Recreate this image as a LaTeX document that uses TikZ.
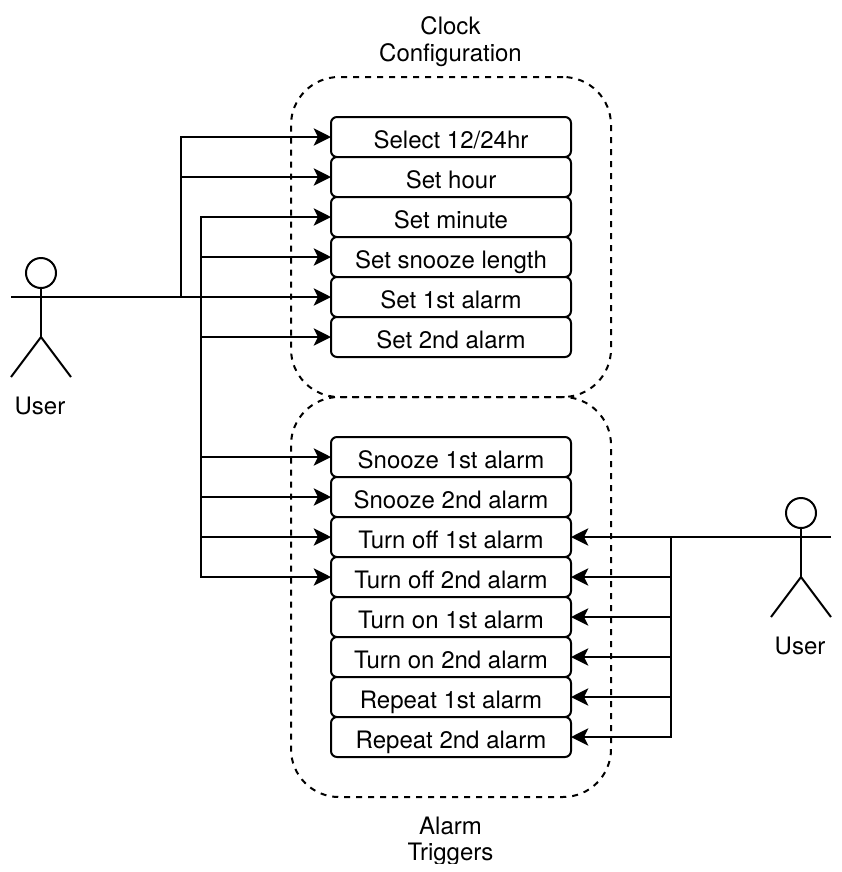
\documentclass[tikz,border=0pt]{standalone}
\usepackage{fontspec}
\setmainfont{TeX Gyre Heros}
\usetikzlibrary{arrows.meta, positioning}

\begin{document}
\begin{tikzpicture}[
    x=0.75pt, y=-0.75pt,
    line width=1.5pt,
    node distance=0pt,
    box/.style={rectangle, draw, rounded corners=4.5pt, minimum width=180pt, minimum height=30pt, inner sep=0pt, outer sep=0pt, fill=white, text centered, text height=18.8pt, text depth=2.2pt, font=\fontsize{18}{20}\selectfont},
    region/.style={rectangle, draw, dash pattern=on 4.5pt off 4.5pt, rounded corners=36pt, minimum width=240pt, inner sep=0pt, outer sep=0pt},
    label/.style={inner sep=0pt, align=center, font=\fontsize{18}{20}\selectfont},
    head/.style={circle, draw, minimum size=22.5pt, inner sep=0pt, outer sep=0pt},
    arrow/.style={-{Stealth[length=13pt, width=13pt, inset=3.2pt]}}
]
    \useasboundingbox (0,0) rectangle (842,872);
    \clip (0,0) rectangle (842,863);

    % Regions
    \node[region, minimum height=240pt] (clock) at (451,237) {};
    \node[region, minimum height=300pt] (alarm) at (451,597) {};
    \node[label] (clocklabel) at (450.5,41.5) {Clock\\Configuration};
    \node[label] (alarmlabel) at (450.5,841.5) {Alarm\\Triggers};

    % Clock boxes
    \node[box] (select) at (451,137) {Select 12/24hr};
    \node[box, below=of select] (hour) {Set hour};
    \node[box, below=of hour] (minute) {Set minute};
    \node[box, below=of minute] (snoozelen) {Set snooze length};
    \node[box, below=of snoozelen] (setfirst) {Set 1st alarm};
    \node[box, below=of setfirst] (setsecond) {Set 2nd alarm};

    % Alarm boxes
    \node[box, below=60pt of setsecond] (snoozefirst) {Snooze 1st alarm};
    \node[box, below=of snoozefirst] (snoozesecond) {Snooze 2nd alarm};
    \node[box, below=of snoozesecond] (offfirst) {Turn off 1st alarm};
    \node[box, below=of offfirst] (offsecond) {Turn off 2nd alarm};
    \node[box, below=of offsecond] (onfirst) {Turn on 1st alarm};
    \node[box, below=of onfirst] (onsecond) {Turn on 2nd alarm};
    \node[box, below=of onsecond] (repeatfirst) {Repeat 1st alarm};
    \node[box, below=of repeatfirst] (repeatsecond) {Repeat 2nd alarm};

    % Left user
    \node[head] (headleft) at (41,273) {};
    \coordinate (handleft) at (11,297);
    \coordinate (hipleft) at (41,337);
    \coordinate (footleftA) at (11,377);
    \coordinate (footleftB) at (71,377);
    \node[label] (userleft) at (40,405.5) {User};
    \draw (headleft) -- (hipleft);
    \draw (footleftA) -- (hipleft) -- (footleftB);

    % Right user
    \node[head] (headright) at (801,513) {};
    \coordinate (handright) at (831,537);
    \coordinate (hipright) at (801,577);
    \coordinate (footrightA) at (771,617);
    \coordinate (footrightB) at (831,617);
    \node[label] (userright) at (800,645.5) {User};
    \draw (headright) -- (hipright);
    \draw (footrightA) -- (hipright) -- (footrightB);

    % Trunks
    \coordinate (trunkA) at (181,297);
    \coordinate (trunkB) at (201,297);
    \coordinate (trunkC) at (671,537);

    % Arrows
    \draw[arrow] (handleft) -- (setfirst.west);
    \draw[arrow] (trunkA) |- (select.west);
    \draw[arrow] (trunkA) |- (hour.west);
    \draw[arrow] (trunkB) |- (minute.west);
    \draw[arrow] (trunkB) |- (snoozelen.west);
    \draw[arrow] (trunkB) |- (setsecond.west);
    \draw[arrow] (trunkB) |- (snoozefirst.west);
    \draw[arrow] (trunkB) |- (snoozesecond.west);
    \draw[arrow] (trunkB) |- (offfirst.west);
    \draw[arrow] (trunkB) |- (offsecond.west);

    \draw[arrow] (handright) -- (offfirst.east);
    \draw[arrow] (trunkC) |- (offsecond.east);
    \draw[arrow] (trunkC) |- (onfirst.east);
    \draw[arrow] (trunkC) |- (onsecond.east);
    \draw[arrow] (trunkC) |- (repeatfirst.east);
    \draw[arrow] (trunkC) |- (repeatsecond.east);
\end{tikzpicture}
\end{document}
